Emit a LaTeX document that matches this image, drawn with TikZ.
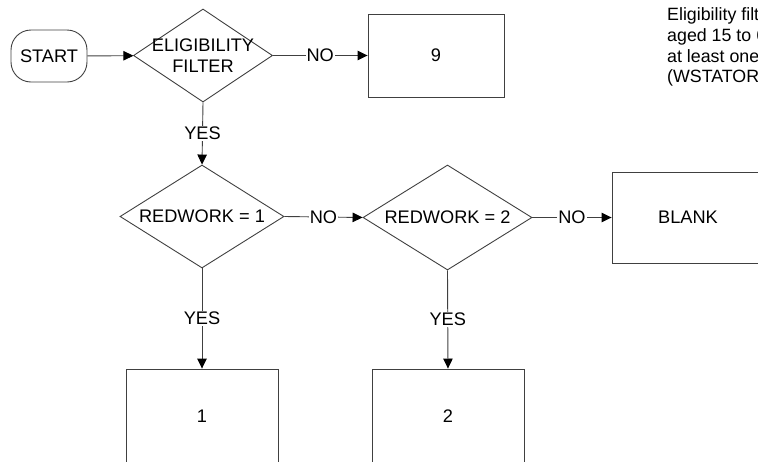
\documentclass[tikz,border=0pt]{standalone}
\usepackage{fontspec}
\setmainfont{Liberation Sans}
\usetikzlibrary{shapes.geometric,arrows.meta}
\definecolor{linec}{HTML}{404040}
\tikzset{
  x=1pt, y=-1pt,
  every node/.style={font=\fontsize{18.2}{20.7}\selectfont, text=black},
  boxnode/.style={draw=linec, line width=0.9pt, rectangle, inner sep=0pt},
  decision/.style={draw=linec, line width=0.9pt, diamond, inner sep=0pt},
  conn/.style={draw=linec, line width=0.9pt, -{Triangle[length=10pt,width=9.5pt,fill=black,color=black]}},
  lbl/.style={fill=white, inner sep=1pt},
  notetext/.style={anchor=base west, inner sep=0pt, font=\fontsize{17.8}{20.7}\selectfont}
}
\begin{document}
\begin{tikzpicture}
\useasboundingbox (0,0) rectangle (758,461);
\clip (0,0) rectangle (758,461);
% nodes
\node[boxnode, rounded corners=20pt, minimum width=76pt, minimum height=52pt] (start) at (49,56) {START};
\node[decision, minimum width=139pt, minimum height=93pt,
      label={[align=center, inner sep=0pt]center:ELIGIBILITY\\FILTER}] (d1) at (203,55.5) {};
\node[boxnode, minimum width=136pt, minimum height=83pt] (b9) at (436,55.5) {9};
\node[decision, minimum width=164pt, minimum height=103pt,
      label={[inner sep=0pt]center:REDWORK = 1}] (d2) at (202,216.5) {};
\node[decision, minimum width=169pt, minimum height=105pt,
      label={[inner sep=0pt]center:REDWORK = 2}] (d3) at (447.5,217.5) {};
\node[boxnode, minimum width=152pt, minimum height=91pt] (blank) at (688,217.5) {BLANK};
\node[boxnode, minimum width=152pt, minimum height=94pt] (b1) at (202,416) {1};
\node[boxnode, minimum width=152pt, minimum height=94pt] (b2) at (448,416) {2};
% note text (cut by the frame, as in the original)
\node[notetext] (n1) at (667,20.7) {Eligibility filter};
\node[notetext] (n2) at (667,41.7) {aged 15 to 64};
\node[notetext] (n3) at (667,62.4) {at least one};
\node[notetext] (n4) at (667,82.9) {(WSTATOR};
% connectors
\draw[conn] (start) -- (d1);
\draw[conn] (d1.east) -- node[lbl] (no1) {NO} (b9.west);
\draw[conn] (d1.south) -- node[lbl] (yes1) {YES} (d2.north);
\draw[conn] (d2.east) -- node[lbl] (no2) {NO} (d3.west);
\draw[conn] (d3.east) -- node[lbl] (no3) {NO} (blank.west);
\draw[conn] (d2.south) -- node[lbl] (yes2) {YES} (b1.north);
\draw[conn] (d3.south) -- node[lbl] (yes3) {YES} (b2.north);
\end{tikzpicture}
\end{document}
